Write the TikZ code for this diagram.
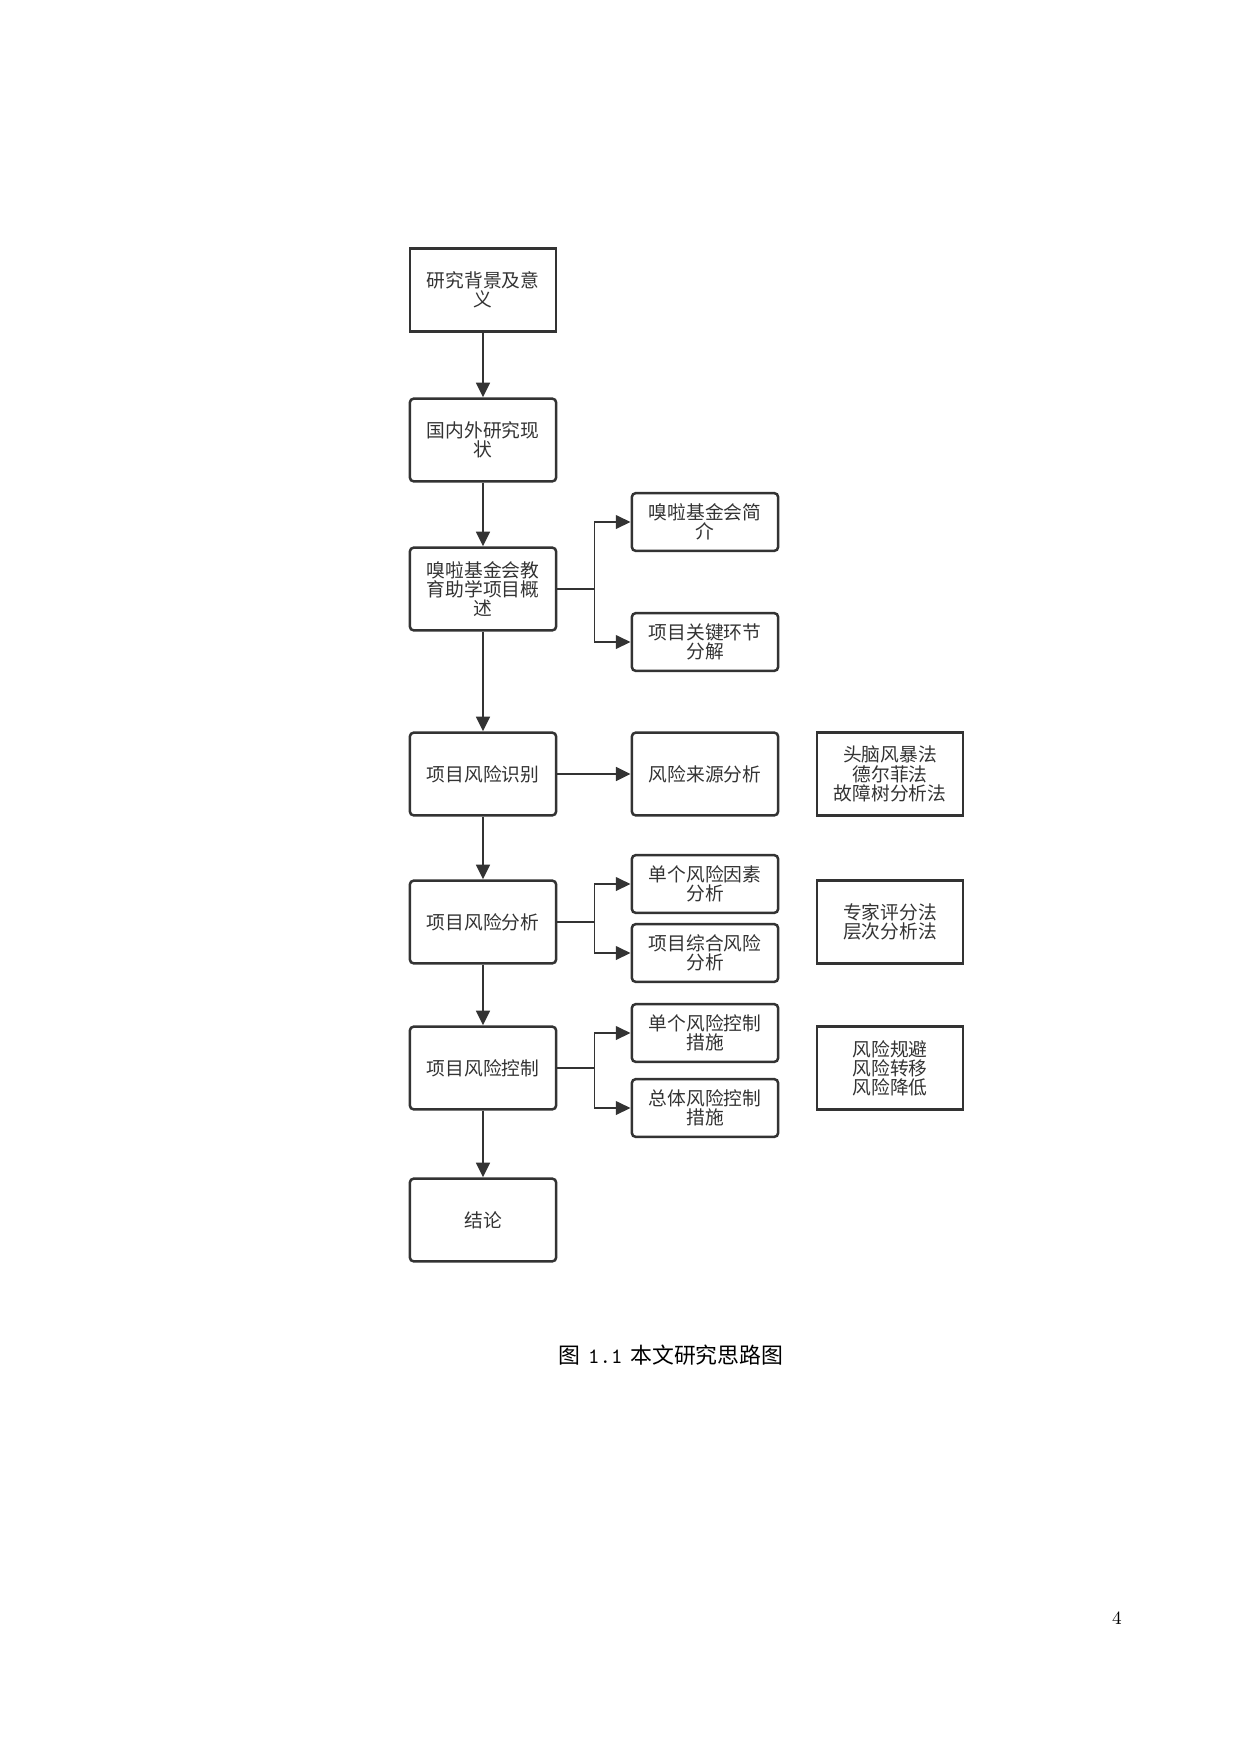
\documentclass[tikz,border=0pt]{standalone}
\usepackage{fontspec}
\newfontfamily\cjk{Noto Sans CJK SC}
\usetikzlibrary{arrows.meta, positioning, calc}
\definecolor{ink}{HTML}{333333}

\begin{document}
\begin{tikzpicture}[x=0.48pt, y=-0.48pt,
    main/.style={draw=ink, line width=1.2pt, rounded corners=2pt, minimum width=70.3pt, minimum height=39.8pt, align=center, text=ink, inner sep=1pt, font=\cjk\fontsize{9}{9.2}\selectfont},
    sub/.style={main, minimum height=27.8pt},
    meth/.style={main, sharp corners},
    arr/.style={-{Triangle[length=7pt, width=6.5pt]}, line width=1.3pt, draw=ink},
    br/.style={arr, line width=0.9pt}
]
\useasboundingbox (0,0) rectangle (1240,1754);

% Main column
\node[main, sharp corners] (b1) at (483,290) {研究背景及意\\义};
\node[main] (b2) at (483,440) {国内外研究现\\状};
\node[main] (b3) at (483,589) {嗅啦基金会教\\育助学项目概\\述};
\node[main] (b4) at (483,774) {项目风险识别};
\node[main] (b5) at (483,922) {项目风险分析};
\node[main] (b6) at (483,1068) {项目风险控制};
\node[main] (b7) at (483,1220) {结论};

% Sub steps
\node[sub] (s1) at (705,522) {嗅啦基金会简\\介};
\node[sub] (s2) at (705,642) {项目关键环节\\分解};
\node[main] (s3) at (705,774) {风险来源分析};
\node[sub] (s4) at (705,884) {单个风险因素\\分析};
\node[sub] (s5) at (705,953) {项目综合风险\\分析};
\node[sub] (s6) at (705,1033) {单个风险控制\\措施};
\node[sub] (s7) at (705,1108) {总体风险控制\\措施};

% Methods
\node[meth] (m1) at (890,774) {头脑风暴法\\德尔菲法\\故障树分析法};
\node[meth] (m2) at (890,922) {专家评分法\\层次分析法};
\node[meth] (m3) at (890,1068) {风险规避\\风险转移\\风险降低};

% Arrows
\foreach \a/\b in {b1/b2, b2/b3, b3/b4, b4/b5, b5/b6, b6/b7}
    \draw[arr] (\a) -- (\b);
\draw[arr] (b4) -- (s3);

% Branches
\foreach \a/\b/\c in {b3/s1/s2, b5/s4/s5, b6/s6/s7} {
    \coordinate (j\a) at ($(\a.east)+(37,0)$);
    \draw[line width=1.3pt, ink] (\a.east) -- (j\a);
    \draw[br] (j\a) |- (\b);
    \draw[br] (j\a) |- (\c);
}

\node[font=\fontsize{10.5}{10.5}\selectfont] (cap) at (671,1355) {{\cjk 图}\hspace{0.35em}\texttt{1.1}\hspace{0.35em}{\cjk 本文研究思路图}};
\node[font=\fontsize{9}{9}\selectfont] (pg) at (1117,1618) {4};

\end{tikzpicture}
\end{document}
